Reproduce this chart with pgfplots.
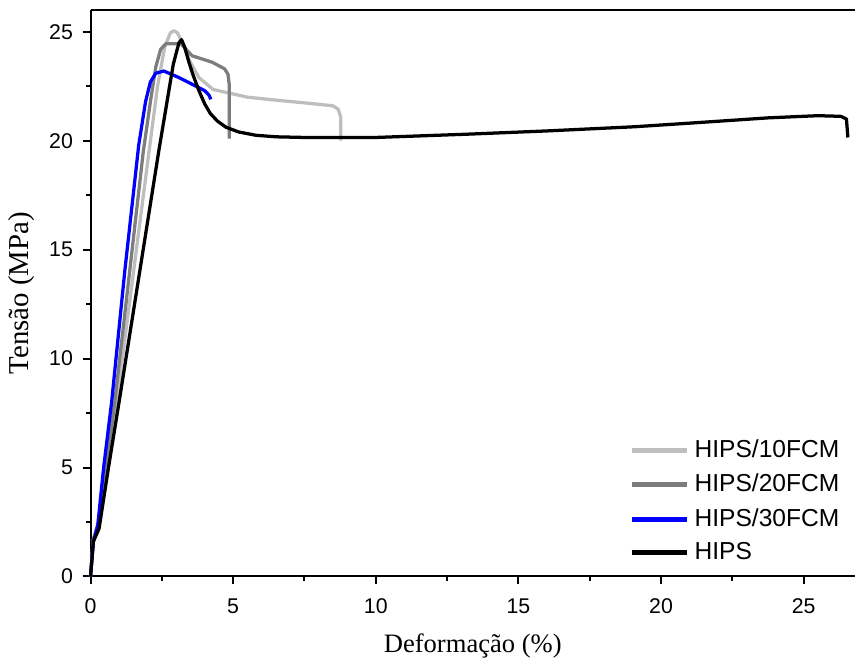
\documentclass[border=0pt]{standalone}
\usepackage{fontspec}
\setmainfont{Liberation Sans}
\newfontfamily\serifl{Liberation Serif}
\usepackage{pgfplots}
\pgfplotsset{compat=1.18}
\definecolor{lgray}{RGB}{190,190,190}
\definecolor{dgray}{RGB}{125,125,125}
\definecolor{hblue}{RGB}{0,0,255}
\begin{document}
\begin{tikzpicture}
\begin{axis}[
  scale only axis, width=305pt, height=226pt,
  xmin=0, xmax=26.8, ymin=0, ymax=26,
  axis x line*=bottom, axis y line*=left,
  axis line style={line width=0.8pt,-},
  xtick={0,5,...,25}, ytick={0,5,...,25},
  minor tick num=1,
  tick align=outside,
  major tick length=3pt, minor tick length=1.8pt,
  every tick/.style={line width=0.8pt,black},
  tick label style={font=\fontsize{8.5}{10}\selectfont},
  xticklabel style={yshift=-2.5pt},
  yticklabel style={xshift=-0.5pt},
  /pgf/number format/assume math mode=true,
  xlabel={\serifl Deformação (\%)}, ylabel={\serifl Tensão (MPa)},
  xlabel style={font=\fontsize{10.6}{12}\selectfont, yshift=-1pt},
  ylabel style={font=\fontsize{11.5}{13}\selectfont, yshift=-1pt},
  legend style={draw=none, fill=none, font=\fontsize{9.8}{11}\selectfont,
    at={(rel axis cs:0.99,0.255)}, anchor=north east,
    row sep=1pt, inner sep=1pt},
  legend cell align=left,
  legend image code/.code={\draw[#1,line width=2pt] (0cm,0cm) -- (0.78cm,0cm);},
  every axis plot/.append style={line width=1.3pt, line join=round},
  clip=false,
]
\draw[line width=0.8pt] (rel axis cs:0,1) -- (rel axis cs:1,1);
\path (rel axis cs:1,1) ++(0,4pt) coordinate (topmargin);
\useasboundingbox (rel axis cs:0,0) rectangle (topmargin);
\addplot[lgray] coordinates {
(0,0)(0.1,1.7)(0.3,2.5)(0.6,5)(0.92,8)(2.05,19.5)(2.35,22.5)(2.6,24.3)(2.8,24.95)(2.92,25.05)(3.05,24.95)(3.25,24.4)(3.5,23.6)(3.8,22.9)(4.3,22.35)(5.5,22.0)(6.6,21.85)(7.8,21.7)(8.5,21.6)(8.68,21.45)(8.77,21.1)(8.77,20.0)};
\addlegendentry{HIPS/10FCM}
\addplot[dgray] coordinates {
(0,0)(0.1,1.7)(0.3,2.6)(0.55,5)(0.85,8)(1.85,19.5)(2.1,21.8)(2.29,23.4)(2.46,24.2)(2.64,24.45)(3.17,24.45)(3.56,23.9)(4.27,23.6)(4.7,23.3)(4.82,23.05)(4.86,22.6)(4.86,20.1)};
\addlegendentry{HIPS/20FCM}
\addplot[hblue] coordinates {
(0,0)(0.1,1.6)(0.25,2.3)(0.46,5)(0.74,8)(1.2,14)(1.69,19.8)(1.93,21.8)(2.1,22.7)(2.29,23.1)(2.57,23.2)(3.1,22.9)(3.7,22.5)(4.0,22.3)(4.15,22.1)(4.22,21.9)};
\addlegendentry{HIPS/30FCM}
\addplot[black] coordinates {
(0,0)(0.1,1.6)(0.3,2.2)(0.63,5)(1.0,8)(2.39,19.5)(2.9,23.5)(3.1,24.5)(3.19,24.64)(3.3,24.3)(3.45,23.6)(3.6,23.0)(3.8,22.3)(4.0,21.7)(4.2,21.25)(4.45,20.9)(4.75,20.62)(5.2,20.4)(5.8,20.25)(6.5,20.18)(7.5,20.15)(10,20.15)(13.2,20.3)(16,20.45)(19.05,20.64)(21.5,20.85)(23.76,21.05)(25.5,21.15)(26.3,21.12)(26.5,21.0)(26.55,20.15)};
\addlegendentry{HIPS}
\end{axis}
\end{tikzpicture}
\end{document}
